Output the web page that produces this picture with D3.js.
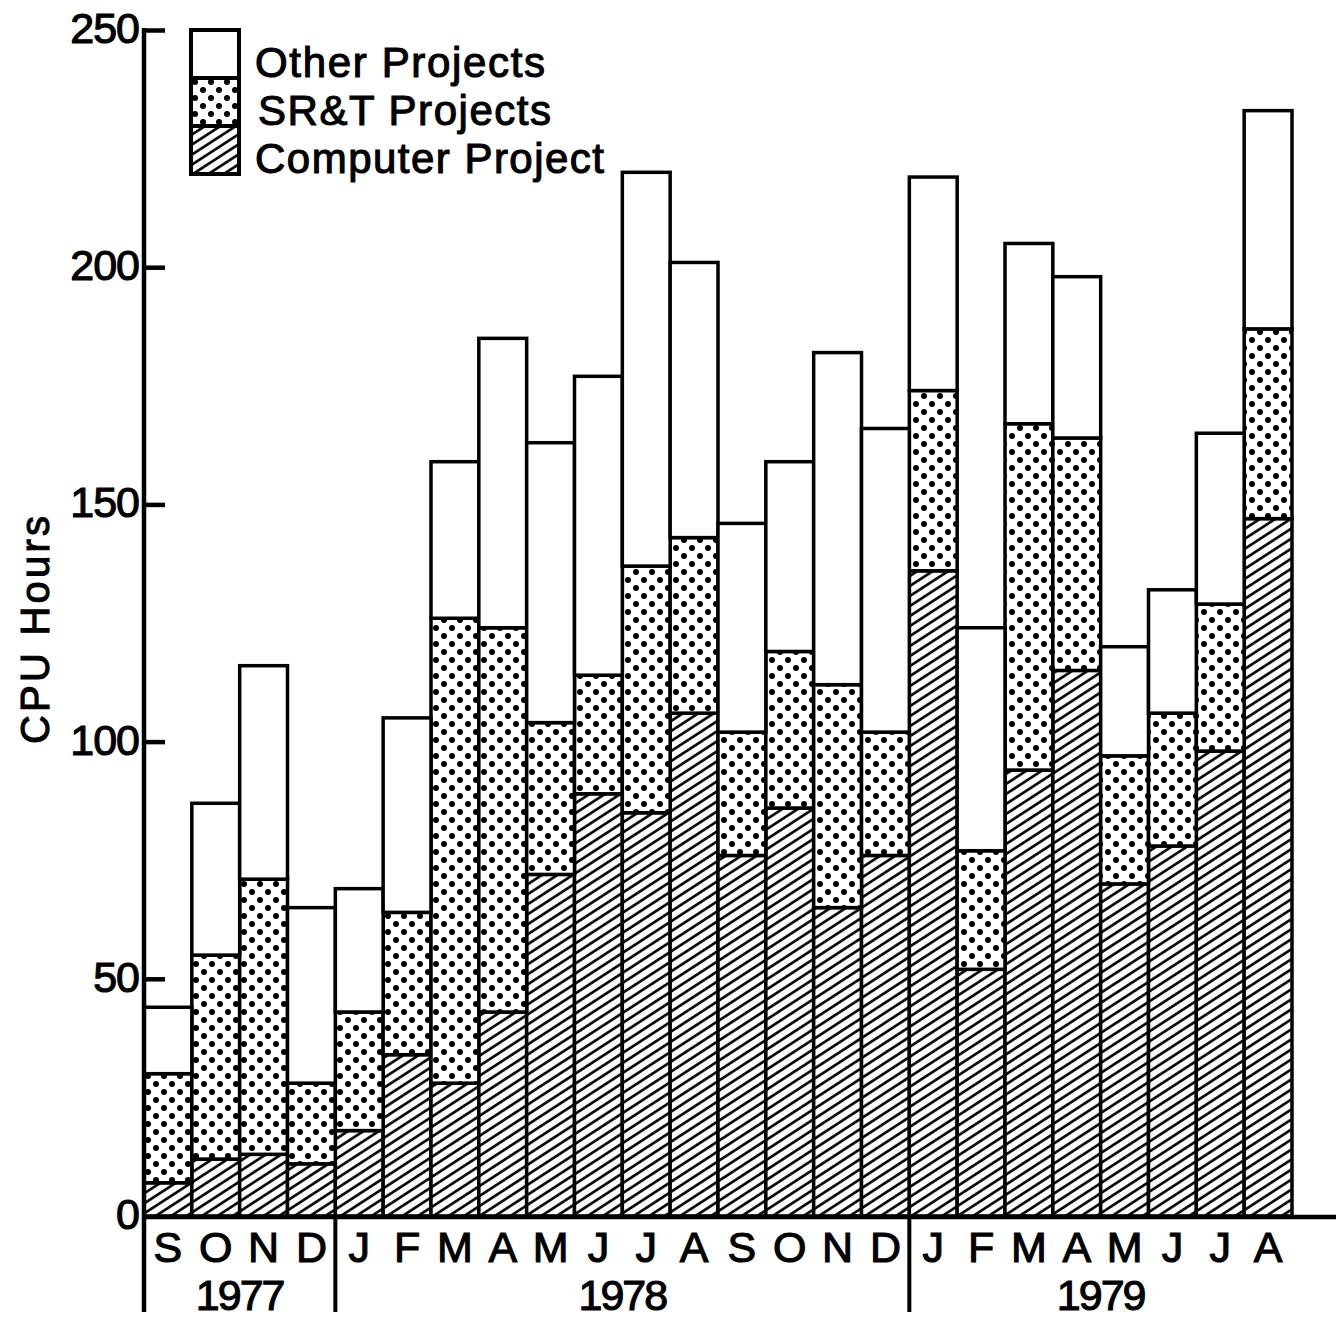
<!DOCTYPE html>
<html>
<head>
<meta charset="utf-8">
<script src="https://cdn.jsdelivr.net/npm/d3@7"></script>
<style>
  body { margin: 0; background: #fff; }
  text { font-family: "Liberation Sans", Arial, sans-serif; fill: #000; stroke: #000; stroke-width: 1.1px; }
</style>
</head>
<body>
<div class="chart"></div>
<script>
// Monthly CPU hours, Sep 1977 - Aug 1979
const months = ['S','O','N','D','J','F','M','A','M','J','J','A','S','O','N','D','J','F','M','A','M','J','J','A'];
const years = [
    {label: '1977', from: 0, to: 4},
    {label: '1978', from: 4, to: 16},
    {label: '1979', from: 16, to: 24}
];
const computerProject = [7, 12, 13, 11, 18, 34, 28, 43, 72, 89, 85, 106, 76, 86, 65, 76, 136, 52, 94, 115, 70, 78, 98, 147];
const srtProjects     = [23, 43, 58, 17, 25, 30, 98, 81, 32, 25, 52, 37, 26, 33, 47, 26, 38, 25, 73, 49, 27, 28, 31, 40];
const otherProjects   = [14, 32, 45, 37, 26, 41, 33, 61, 59, 63, 83, 58, 44, 40, 70, 64, 45, 47, 38, 34, 23, 26, 36, 46];
const yTicks = [50, 100, 150, 200, 250];
const legendLabels = ['Other Projects', 'SR&T Projects', 'Computer Project'];
const legendWidths = [290, 293, 349];   // measured text lengths

const W = 1342, H = 1318;

const svg = d3.select('.chart').append('svg').attr('width', W).attr('height', H);

// fill patterns
const defs = svg.append('defs');
const hs = 8.4;
const hatch = defs.append('pattern').attr('id', 'hatch')
    .attr('patternUnits', 'userSpaceOnUse').attr('width', hs).attr('height', hs)
    .attr('patternTransform', 'rotate(-33)');
hatch.append('rect').attr('width', hs).attr('height', hs).attr('fill', '#fff');
hatch.append('line').attr('x1', 0).attr('x2', hs).attr('y1', hs / 2).attr('y2', hs / 2)
    .attr('stroke', '#000').attr('stroke-width', 2.6);

const dots = defs.append('pattern').attr('id', 'dots')
    .attr('patternUnits', 'userSpaceOnUse').attr('width', 16).attr('height', 16);
dots.append('rect').attr('width', 16).attr('height', 16).attr('fill', '#fff');
dots.append('circle').attr('cx', 4).attr('cy', 4).attr('r', 3).attr('fill', '#000');
dots.append('circle').attr('cx', 12).attr('cy', 12).attr('r', 3).attr('fill', '#000');

const fills = ['url(#hatch)', 'url(#dots)', '#fff'];

const x = d3.scaleBand().domain(d3.range(months.length)).range([144, 1292]).padding(0);
const y = d3.scaleLinear().domain([0, 250]).range([1216, 30]);

// stack: computer at the bottom, then SR&T, then other
const table = months.map((m, i) => ({i: i, computer: computerProject[i], srt: srtProjects[i], other: otherProjects[i]}));
const series = d3.stack().keys(['computer', 'srt', 'other'])(table);

const layers = svg.append('g').attr('class', 'bars')
    .selectAll('g').data(series).enter().append('g')
    .attr('fill', (d, k) => fills[k]);

layers.selectAll('rect').data(d => d).enter().append('rect')
    .attr('x', d => x(d.data.i))
    .attr('width', x.bandwidth())
    .attr('y', d => y(d[1]))
    .attr('height', d => y(d[0]) - y(d[1]))
    .attr('stroke', '#000')
    .attr('stroke-width', 3.5);

// y axis
const yAxis = svg.append('g').attr('class', 'y-axis').attr('transform', 'translate(144,0)');
yAxis.call(d3.axisRight(y).tickValues(yTicks).tickSize(21).tickFormat(''));
yAxis.select('.domain').remove();
yAxis.selectAll('.tick line').attr('stroke', '#000').attr('stroke-width', 4.5);
yAxis.append('line').attr('x1', 0).attr('x2', 0).attr('y1', y(250) - 2).attr('y2', 1312)
    .attr('stroke', '#000').attr('stroke-width', 4.5);

svg.append('g').attr('class', 'y-labels').selectAll('text').data([0].concat(yTicks)).enter().append('text')
    .attr('x', 139).attr('y', d => y(d) + 13)
    .attr('text-anchor', 'end')
    .attr('font-size', 43)
    .style('letter-spacing', '-1px')
    .text(d => d);

svg.append('text')
    .attr('transform', 'translate(49,630) rotate(-90)')
    .attr('text-anchor', 'middle')
    .attr('font-size', 40)
    .attr('textLength', 228)
    .attr('lengthAdjust', 'spacing')
    .text('CPU Hours');

// x axis
svg.append('line').attr('x1', 142).attr('x2', 1336).attr('y1', 1217).attr('y2', 1217)
    .attr('stroke', '#000').attr('stroke-width', 4.5);

svg.append('g').attr('class', 'x-labels').selectAll('text').data(months).enter().append('text')
    .attr('x', (d, i) => x(i) + x.bandwidth() / 2)
    .attr('y', 1262)
    .attr('text-anchor', 'middle')
    .attr('font-size', 43)
    .text(d => d);

const yearG = svg.append('g').attr('class', 'years');
yearG.selectAll('line').data(years.slice(1)).enter().append('line')
    .attr('x1', d => x(d.from)).attr('x2', d => x(d.from))
    .attr('y1', 1217).attr('y2', 1312)
    .attr('stroke', '#000').attr('stroke-width', 4);
yearG.selectAll('text').data(years).enter().append('text')
    .attr('x', d => (x(d.from) + x(d.to - 1) + x.bandwidth()) / 2)
    .attr('y', 1310)
    .attr('text-anchor', 'middle')
    .attr('font-size', 43)
    .style('letter-spacing', '-2px')
    .text(d => d.label);

// legend
const legendFills = ['#fff', 'url(#dots)', 'url(#hatch)'];
const legend = svg.append('g').attr('class', 'legend').attr('transform', 'translate(191,30)');
legend.selectAll('rect').data(legendLabels).enter().append('rect')
    .attr('x', 0).attr('y', (d, i) => i * 48)
    .attr('width', 48).attr('height', 48)
    .attr('fill', (d, i) => legendFills[i])
    .attr('stroke', '#000').attr('stroke-width', 4);
legend.selectAll('text').data(legendLabels).enter().append('text')
    .attr('x', (d, i) => i === 1 ? 67 : 64).attr('y', (d, i) => i * 48 + 47)
    .attr('font-size', 42)
    .attr('textLength', (d, i) => legendWidths[i])
    .attr('lengthAdjust', 'spacing')
    .text(d => d);
</script>
</body>
</html>
